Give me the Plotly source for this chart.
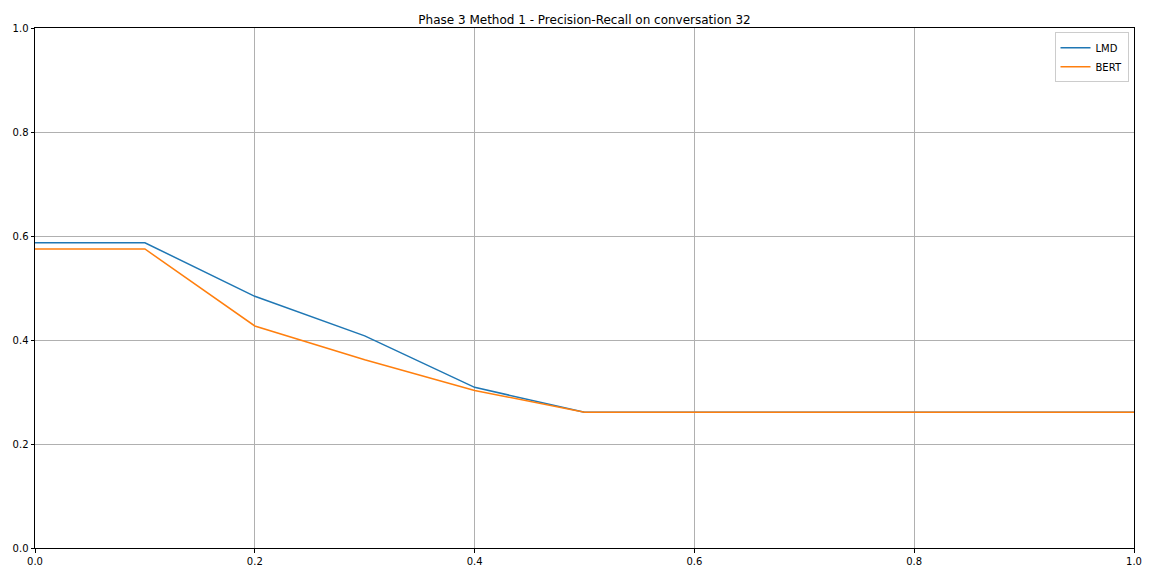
import plotly.graph_objects as go

recall = [0.0, 0.1, 0.2, 0.3, 0.4, 0.5, 0.6, 0.7, 0.8, 0.9, 1.0]
lmd = [0.587, 0.587, 0.484, 0.408, 0.309, 0.261, 0.261, 0.261, 0.261, 0.261, 0.261]
bert = [0.575, 0.575, 0.427, 0.362, 0.303, 0.261, 0.261, 0.261, 0.261, 0.261, 0.261]
tick_vals = [0.0, 0.2, 0.4, 0.6, 0.8, 1.0]
tick_text = ["0.0", "0.2", "0.4", "0.6", "0.8", "1.0"]

fig = go.Figure()
fig.add_trace(go.Scatter(x=recall, y=lmd, mode="lines", name="LMD",
                         line=dict(color="#1f77b4", width=1.5)))
fig.add_trace(go.Scatter(x=recall, y=bert, mode="lines", name="BERT",
                         line=dict(color="#ff7f0e", width=1.5)))

axis_common = dict(
    range=[0, 1], tickvals=tick_vals, ticktext=tick_text,
    showgrid=True, gridcolor="#b0b0b0", gridwidth=0.8,
    showline=True, linecolor="black", linewidth=1, mirror=True,
    ticks="outside", ticklen=3.5, tickcolor="black", automargin=False,
    zeroline=False, tickfont=dict(family="DejaVu Sans", size=10, color="black"),
)

fig.update_layout(
    width=1152, height=576,
    margin=dict(l=27, r=26, t=20, b=36),
    paper_bgcolor="white", plot_bgcolor="white",
    title=dict(text="Phase 3 Method 1 - Precision-Recall on conversation 32",
               x=0.5, xref="paper", y=1, yref="paper", yanchor="bottom", pad=dict(b=4),
               font=dict(family="DejaVu Sans", size=12, color="black")),
    xaxis=axis_common,
    yaxis=axis_common,
    legend=dict(x=0.995, y=0.992, xanchor="right", yanchor="top",
                bordercolor="#cccccc", borderwidth=1, bgcolor="white",
                font=dict(family="DejaVu Sans", size=10, color="black"),
                itemwidth=30, tracegroupgap=0),
    showlegend=True,
)

fig.write_html("out.html")
